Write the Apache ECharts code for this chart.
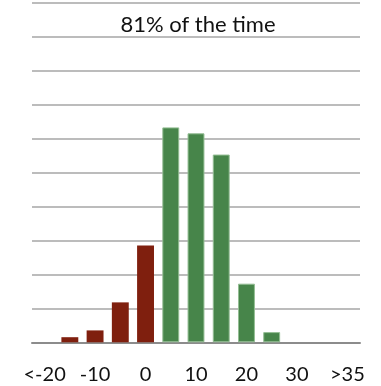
<!DOCTYPE html>
<html>
<head>
<meta charset="utf-8">
<style>
  html, body { margin: 0; padding: 0; background: #fff; }
  #chart { width: 381px; height: 386px; }
</style>
<script src="https://cdn.jsdelivr.net/npm/echarts@6/dist/echarts.min.js"></script>
</head>
<body>
<div id="chart"></div>
<script>
// Distribution buckets (percentage points), one bar per bucket
const categories = ['<-20', '-15', '-10', '-5', '0', '5', '10', '15', '20', '25', '30', '35', '>35'];
const shares = [0, 0.6, 1.4, 4.7, 11.4, 25.3, 24.6, 22.1, 6.9, 1.2, 0, 0, 0];
// Buckets at or below zero are drawn red, the rest green
const lossBuckets = ['<-20', '-15', '-10', '-5', '0'];
const titleText = '81% of the time';

const RED = '#7f1f0e';
const GREEN = '#47854a';

const chart = echarts.init(document.getElementById('chart'), null, { renderer: 'canvas' });

chart.setOption({
  animation: false,
  title: {
    text: titleText,
    left: 193,
    textAlign: 'center',
    top: 9,
    textStyle: { fontFamily: 'Lato', fontWeight: 'normal', fontSize: 22, color: '#111' }
  },
  grid: { left: 32, right: 21, top: 2.5, bottom: 43.7, containLabel: false },
  xAxis: {
    type: 'category',
    data: categories,
    axisLine: { show: true, lineStyle: { color: '#8c8c8c', width: 2 } },
    axisTick: { show: false },
    axisLabel: {
      interval: 1,
      margin: 22,
      fontFamily: 'Lato',
      fontSize: 20,
      color: '#111'
    }
  },
  yAxis: {
    type: 'value',
    min: 0,
    max: 40,
    interval: 4,
    axisLabel: { show: false },
    axisLine: { show: false },
    axisTick: { show: false },
    splitLine: { lineStyle: { color: '#a6a6a6', width: 1.5 } }
  },
  series: [{
    type: 'bar',
    data: shares.map((v, i) => {
      const loss = lossBuckets.includes(categories[i]);
      return {
        value: v,
        itemStyle: loss || v === 0
          ? { color: loss ? RED : GREEN, borderWidth: 0 }
          : { color: GREEN, borderColor: '#93bd93', borderWidth: 1 }
      };
    }),
    barCategoryGap: '33%'
  }]
});
</script>
</body>
</html>
